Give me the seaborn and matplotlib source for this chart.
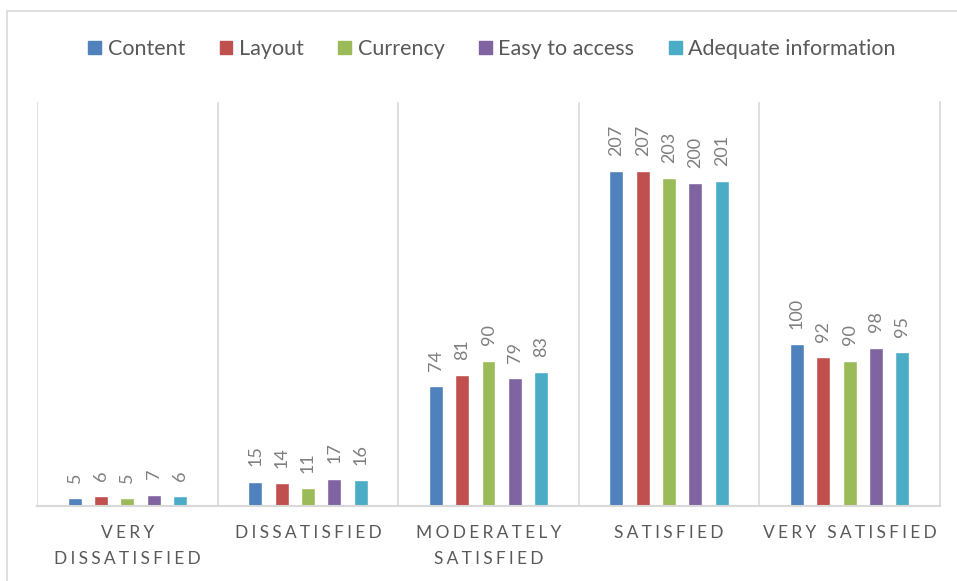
import matplotlib
matplotlib.use("Agg")
import matplotlib.pyplot as plt
import seaborn as sns
import pandas as pd
from matplotlib.patches import Rectangle

# data
categories = ["VERY\nDISSATISFIED", "DISSATISFIED", "MODERATELY\nSATISFIED",
              "SATISFIED", "VERY SATISFIED"]
series = ["Content", "Layout", "Currency", "Easy to access", "Adequate information"]
content = [5, 15, 74, 207, 100]
layout = [6, 14, 81, 207, 92]
currency = [5, 11, 90, 203, 90]
easy_access = [7, 17, 79, 200, 98]
adequate_info = [6, 16, 83, 201, 95]

colors = ["#4F81BD", "#C0504D", "#9BBB59", "#8064A2", "#4BACC6"]


def spaced(txt):
    # imitate Excel's letter spacing with thin spaces
    return "\n".join("\u2009\u200a".join(list(line)) for line in txt.split("\n"))


rows = []
for name, vals in zip(series, [content, layout, currency, easy_access, adequate_info]):
    for cat, v in zip(categories, vals):
        rows.append({"category": cat, "series": name, "value": v})
df = pd.DataFrame(rows)

sns.set_theme(style="white")
plt.rcParams["font.family"] = ["Lato", "DejaVu Sans"]

fig = plt.figure(figsize=(9.57, 5.81), dpi=100)
W, H = 957, 581
ax = fig.add_axes([37 / W, 1 - 506 / H, (940 - 37) / W, (506 - 102) / H])

sns.barplot(data=df, x="category", y="value", hue="series", order=categories,
            hue_order=series, palette=colors, width=0.73, gap=0.47,
            saturation=1, ax=ax, legend=False)

for cont in ax.containers:
    ax.bar_label(cont, rotation=90, padding=11, fontsize=13, color="#7f7f7f")

ax.set_ylim(0, 250)
ax.set_xlim(-0.5, 4.5)
ax.set_xlabel("")
ax.set_ylabel("")
ax.set_yticks([])
ax.set_xticks(range(len(categories)))
ax.set_xticklabels([spaced(c) for c in categories], fontsize=12.5, color="#595959",
                   linespacing=1.75)
ax.tick_params(axis="x", length=0, pad=14)

for s in ["top", "left"]:
    ax.spines[s].set_visible(False)
ax.spines["right"].set_visible(True)
ax.spines["right"].set_color("#d9d9d9")
ax.spines["bottom"].set_color("#d9d9d9")
ax.spines["bottom"].set_linewidth(1.5)
for xb in [-0.5, 0.5, 1.5, 2.5, 3.5]:
    ax.axvline(xb, color="#d9d9d9", lw=1.2, zorder=0)

# legend
handles = [Rectangle((0, 0), 1, 1, color=c) for c in colors]
fig.legend(handles, series, loc="center", bbox_to_anchor=(492 / W, 1 - 49 / H), ncol=5,
           frameon=False, fontsize=15.5, handlelength=0.6, handleheight=0.6,
           handletextpad=0.3, columnspacing=1.6, labelcolor="#595959")

# outer chart border
fig.patches.append(Rectangle((7 / W, -0.1), 1.2, 1 - 11 / H + 0.1, transform=fig.transFigure,
                             fill=False, edgecolor="#d9d9d9", lw=1.2))

fig.savefig("out.png", dpi=100)
